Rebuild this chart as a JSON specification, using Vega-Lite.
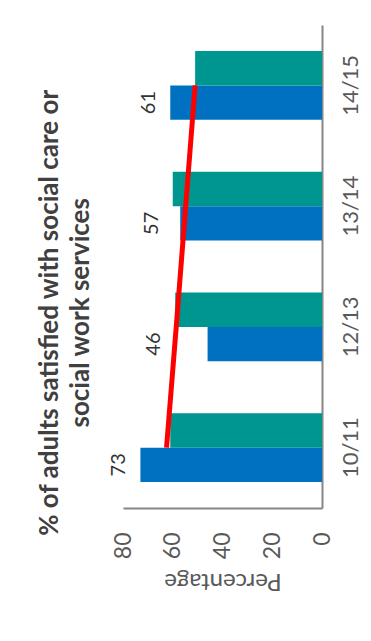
{
  "$schema": "https://vega.github.io/schema/vega-lite/v6.json",
  "width": 199,
  "height": 483,
  "autosize": "none",
  "padding": {"left": 123, "top": 25, "right": 49, "bottom": 133},
  "background": "white",
  "config": {"view": {"stroke": null}, "font": "Lato"},
  "title": {
    "text": ["% of adults satisfied with social care or", "social work services"],
    "orient": "left",
    "anchor": "middle",
    "frame": "bounds",
    "font": "Lato",
    "fontSize": 26,
    "fontWeight": "bold",
    "color": "#404040",
    "lineHeight": 31,
    "offset": 15,
    "dx": -4
  },
  "datasets": {
    "bars": [
      {"year": "10/11", "series": "A", "value": 73},
      {"year": "10/11", "series": "B", "value": 61},
      {"year": "12/13", "series": "A", "value": 46},
      {"year": "12/13", "series": "B", "value": 59},
      {"year": "13/14", "series": "A", "value": 57},
      {"year": "13/14", "series": "B", "value": 60},
      {"year": "14/15", "series": "A", "value": 61},
      {"year": "14/15", "series": "B", "value": 51}
    ],
    "trend": [
      {"year": "10/11", "trend": 62.5},
      {"year": "12/13", "trend": 58.6},
      {"year": "13/14", "trend": 54.8},
      {"year": "14/15", "trend": 51}
    ]
  },
  "layer": [
    {
      "data": {"name": "bars"},
      "mark": {"type": "bar"},
      "encoding": {
        "y": {
          "field": "year",
          "type": "nominal",
          "sort": ["14/15", "13/14", "12/13", "10/11"],
          "scale": {"domain": ["14/15", "13/14", "12/13", "10/11"], "paddingInner": 0.43, "paddingOuter": 0.215},
          "axis": {
            "orient": "right",
            "title": null,
            "ticks": false,
            "domainColor": "#868686",
            "domainWidth": 2,
            "labelAngle": -90,
            "labelAlign": "center",
            "labelBaseline": "top",
            "labelPadding": 18,
            "labelFont": "Lato",
            "labelFontSize": 22,
            "labelColor": "#595959"
          }
        },
        "yOffset": {"field": "series", "type": "nominal", "scale": {"domain": ["B", "A"]}},
        "x": {
          "field": "value",
          "type": "quantitative",
          "scale": {"domain": [0, 80], "reverse": true, "nice": false},
          "axis": {
            "orient": "bottom",
            "values": [0, 20, 40, 60, 80],
            "grid": false,
            "ticks": false,
            "domainColor": "#868686",
            "domainWidth": 2,
            "labelAngle": -90,
            "labelAlign": "right",
            "labelBaseline": "middle",
            "labelPadding": 24,
            "labelFont": "Lato",
            "labelFontSize": 23,
            "labelColor": "#595959",
            "title": "Percentage",
            "titleAngle": 180,
            "titleBaseline": "bottom",
            "titleFont": "Lato",
            "titleFontSize": 24,
            "titleFontWeight": "normal",
            "titleColor": "#595959",
            "titlePadding": 10
          }
        },
        "color": {
          "field": "series",
          "type": "nominal",
          "scale": {"domain": ["A", "B"], "range": ["#0070C0", "#009690"]},
          "legend": null
        }
      }
    },
    {
      "data": {"name": "bars"},
      "transform": [
        {"joinaggregate": [{"op": "max", "field": "value", "as": "gmax"}], "groupby": ["year"]},
        {"filter": "datum.series === 'A'"}
      ],
      "mark": {"type": "text", "angle": -90, "align": "center", "baseline": "bottom", "dy": -11, "font": "Lato", "fontSize": 20, "color": "#333333"},
      "encoding": {
        "y": {"field": "year", "type": "nominal"},
        "yOffset": {"field": "series", "type": "nominal"},
        "x": {"field": "gmax", "type": "quantitative"},
        "text": {"field": "value", "type": "quantitative"}
      }
    },
    {
      "data": {"name": "trend"},
      "mark": {"type": "line", "color": "#FF0000", "strokeWidth": 5},
      "encoding": {
        "y": {"field": "year", "type": "nominal"},
        "x": {"field": "trend", "type": "quantitative"}
      }
    }
  ]
}
